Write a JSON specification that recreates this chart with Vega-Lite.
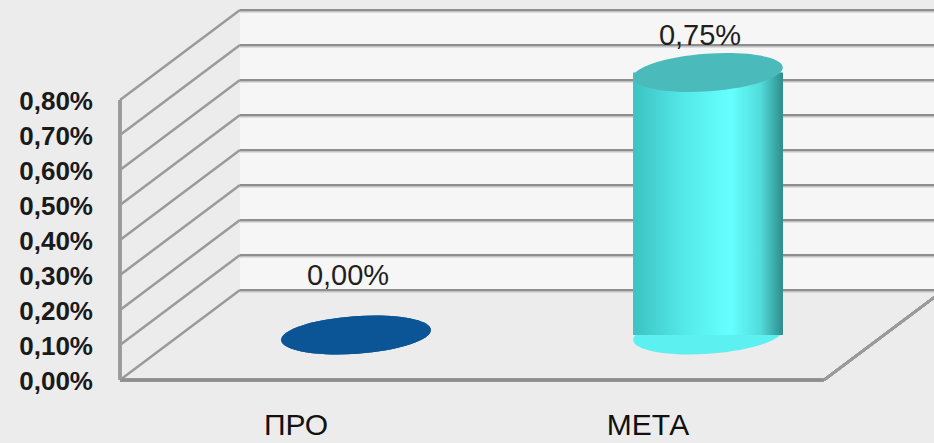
{
  "$schema": "https://vega.github.io/schema/vega-lite/v6.json",
  "width": 704,
  "height": 280,
  "autosize": {"type": "none"},
  "padding": {"left": 120, "top": 100, "right": 110, "bottom": 63},
  "background": "#ececec",
  "config": {
    "view": {"stroke": null},
    "font": "Liberation Sans",
    "locale": {"number": {"decimal": ",", "thousands": " ", "grouping": [3], "currency": ["", " ₽"]}}
  },
  "datasets": {
    "ticks": [{"v": 0}, {"v": 0.001}, {"v": 0.002}, {"v": 0.003}, {"v": 0.004}, {"v": 0.005}, {"v": 0.006}, {"v": 0.007}, {"v": 0.008}],
    "cats": [{"cat": "ПРО", "value": 0}, {"cat": "МЕТА", "value": 0.0075}]
  },
  "layer": [
    {
      "data": {"name": "ticks"},
      "layer": [
        {
          "mark": {"type": "rect", "fill": "#f6f6f6", "xOffset": 120, "x2Offset": 230, "yOffset": -90, "y2Offset": -90},
          "encoding": {
            "x": {"datum": 0, "type": "quantitative", "scale": {"domain": [0, 1]}, "axis": null},
            "x2": {"datum": 1},
            "y": {"datum": 0, "type": "quantitative", "scale": {"domain": [0, 0.008]}, "axis": null},
            "y2": {"datum": 0.008}
          }
        },
        {
          "mark": {"type": "rule", "color": "#c2c2c2", "strokeWidth": 1.5, "xOffset": 120, "x2Offset": 230, "yOffset": -88.2, "y2Offset": -88.2},
          "encoding": {
            "x": {"datum": 0, "type": "quantitative", "axis": null},
            "x2": {"datum": 1},
            "y": {"field": "v", "type": "quantitative", "axis": null},
            "y2": {"field": "v"}
          }
        },
        {
          "mark": {"type": "rule", "color": "#8e8e8e", "strokeWidth": 2, "xOffset": 120, "x2Offset": 230, "yOffset": -90, "y2Offset": -90},
          "encoding": {
            "x": {"datum": 0, "type": "quantitative", "axis": null},
            "x2": {"datum": 1},
            "y": {"field": "v", "type": "quantitative", "axis": null},
            "y2": {"field": "v"}
          }
        },
        {
          "mark": {"type": "rule", "color": "#9a9a9a", "strokeWidth": 2.5, "x2Offset": 120, "y2Offset": -90},
          "encoding": {
            "x": {"datum": 0, "type": "quantitative", "axis": null},
            "x2": {"datum": 0},
            "y": {"field": "v", "type": "quantitative", "axis": null},
            "y2": {"field": "v"}
          }
        },
        {
          "mark": {"type": "rule", "color": "#8e8e8e", "strokeWidth": 2.5},
          "encoding": {
            "x": {"datum": 0, "type": "quantitative", "axis": null},
            "x2": {"datum": 1},
            "y": {"datum": 0, "type": "quantitative", "axis": null}
          }
        },
        {
          "mark": {"type": "rule", "color": "#9a9a9a", "strokeWidth": 2.5},
          "encoding": {
            "x": {"datum": 0, "type": "quantitative", "axis": null},
            "y": {"datum": 0, "type": "quantitative", "axis": null},
            "y2": {"datum": 0.008}
          }
        },
        {
          "mark": {"type": "rule", "color": "#9a9a9a", "strokeWidth": 2.5, "x2Offset": 120, "y2Offset": -90},
          "encoding": {
            "x": {"datum": 1, "type": "quantitative", "axis": null},
            "x2": {"datum": 1},
            "y": {"datum": 0, "type": "quantitative", "axis": null},
            "y2": {"datum": 0}
          }
        },
        {
          "mark": {"type": "text", "font": "Liberation Sans", "fontSize": 26, "fontWeight": "bold", "color": "#1a1a1a", "align": "right", "baseline": "middle", "xOffset": -27, "yOffset": 1.5},
          "encoding": {
            "x": {"datum": 0, "type": "quantitative", "axis": null},
            "y": {"field": "v", "type": "quantitative", "axis": null},
            "text": {"field": "v", "type": "quantitative", "format": ".2%"}
          }
        }
      ]
    },
    {
      "data": {"name": "cats"},
      "resolve": {"scale": {"fill": "independent"}},
      "layer": [
        {
          "mark": {"type": "point", "shape": "M-1,0A1,0.25,0,1,0,1,0A1,0.25,0,1,0,-1,0Z", "size": 22500, "filled": true, "opacity": 1, "strokeWidth": 0, "angle": -4, "xOffset": 60, "yOffset": -45},
          "encoding": {
            "x": {"field": "cat", "type": "nominal", "sort": null, "scale": {"type": "band", "paddingInner": 0.574, "paddingOuter": 0.287}, "axis": null},
            "y": {"datum": 0, "type": "quantitative", "scale": {"domain": [0, 0.008]}, "axis": null},
            "fill": {"field": "cat", "type": "nominal", "scale": {"domain": ["ПРО", "МЕТА"], "range": ["#0b5597", "#5cf0f0"]}, "legend": null}
          }
        },
        {
          "mark": {
            "type": "bar",
            "xOffset": 60, "yOffset": -45, "y2Offset": -45,
            "fill": {"gradient": "linear", "x1": 0, "y1": 0, "x2": 1, "y2": 0, "stops": [
              {"offset": 0, "color": "#3cc2c2"},
              {"offset": 0.35, "color": "#55eaea"},
              {"offset": 0.65, "color": "#66ffff"},
              {"offset": 0.85, "color": "#52dcdc"},
              {"offset": 1, "color": "#2e8c8c"}
            ]}
          },
          "encoding": {
            "x": {"field": "cat", "type": "nominal", "sort": null, "axis": null},
            "y": {"field": "value", "type": "quantitative", "axis": null},
            "y2": {"datum": 0}
          }
        },
        {
          "mark": {"type": "point", "shape": "M-1,0A1,0.25,0,1,0,1,0A1,0.25,0,1,0,-1,0Z", "size": 22500, "filled": true, "opacity": 1, "strokeWidth": 0, "angle": -4, "xOffset": 60, "yOffset": -45},
          "encoding": {
            "x": {"field": "cat", "type": "nominal", "sort": null, "axis": null},
            "y": {"field": "value", "type": "quantitative", "axis": null},
            "fill": {"field": "cat", "type": "nominal", "scale": {"domain": ["ПРО", "МЕТА"], "range": ["#0b5597", "#4bbaba"]}, "legend": null}
          }
        },
        {
          "mark": {"type": "text", "font": "Liberation Sans", "fontSize": 30, "color": "#111111", "align": "center", "baseline": "top", "yOffset": 31},
          "encoding": {
            "x": {"field": "cat", "type": "nominal", "sort": null, "axis": null},
            "y": {"datum": 0, "type": "quantitative", "axis": null},
            "text": {"field": "cat", "type": "nominal"}
          }
        }
      ]
    },
    {
      "data": {"name": "cats"},
      "mark": {"type": "text", "font": "Liberation Sans", "fontSize": 29, "color": "#1f1f1f", "baseline": "alphabetic", "align": "center", "xOffset": 52},
      "encoding": {
        "x": {"field": "cat", "type": "nominal", "sort": null, "scale": {"type": "band", "paddingInner": 0.574, "paddingOuter": 0.287}, "axis": null},
        "y": {"field": "value", "type": "quantitative", "scale": {"domain": [-0.00297, 0.00578]}, "axis": null},
        "text": {"field": "value", "type": "quantitative", "format": ".2%"}
      }
    }
  ],
  "resolve": {"scale": {"x": "independent", "y": "independent"}}
}
